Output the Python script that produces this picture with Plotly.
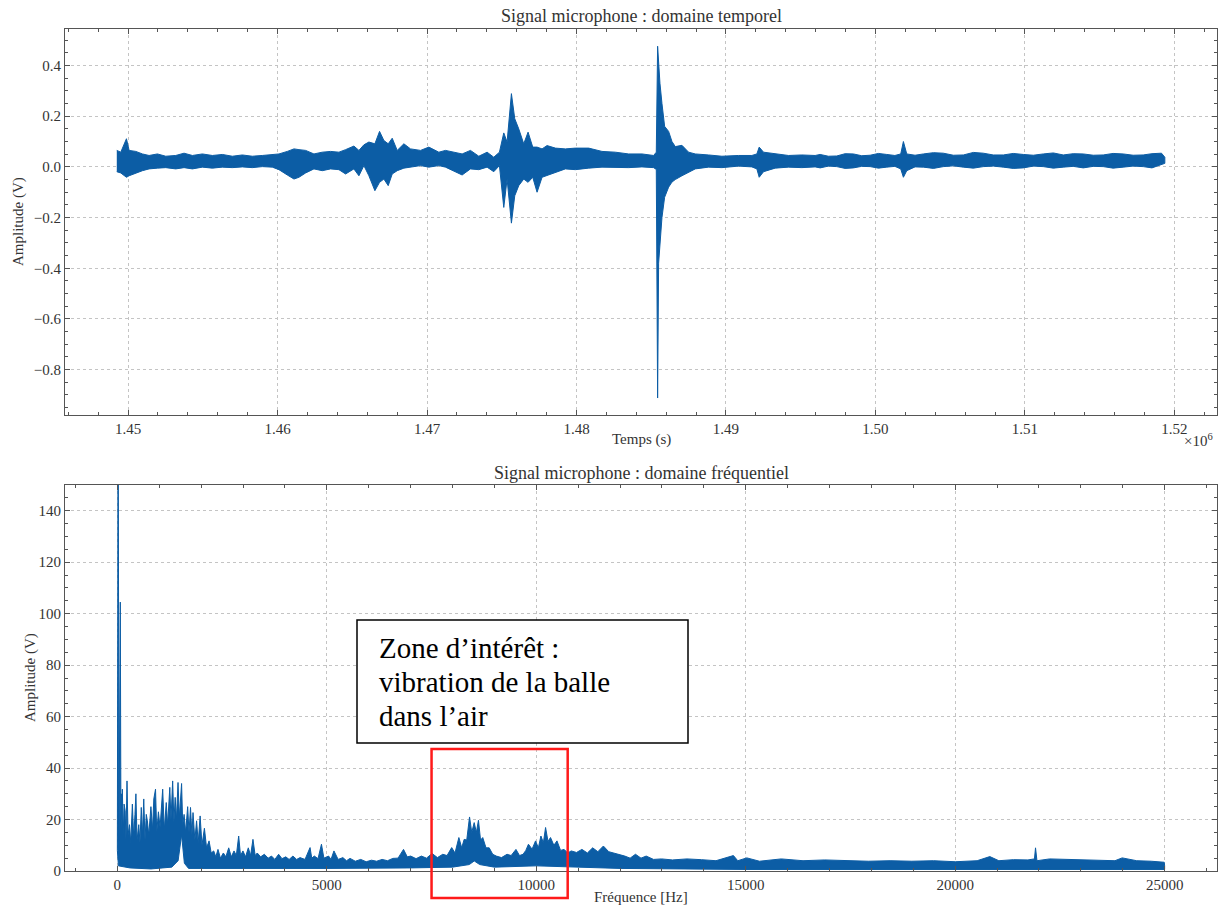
import plotly.graph_objects as go

# ---------------- DATA ----------------
# Time-domain microphone signal, min/max envelope (axis shows x1e6)
time_s = [
    1449245, 1449512, 1449891, 1450069, 1450515, 1450960, 1451406, 1451963, 1452520, 1453188,
    1453745, 1454302, 1454970, 1455639, 1456307, 1456976, 1457644, 1458313, 1458981, 1459650,
    1460095, 1460652, 1461098, 1461432, 1461878, 1462435, 1462992, 1463549, 1464106, 1464551,
    1465108, 1465443, 1465777, 1466111, 1466512, 1466824, 1467114, 1467404, 1467671, 1468005,
    1468451, 1468896, 1469565, 1470121, 1470790, 1471235, 1471903,
    1472349, 1472906, 1473463, 1474020, 1474465, 1474844, 1475134, 1475356, 1475646, 1475869,
    1476136, 1476470, 1476760, 1477072, 1477362, 1477696, 1478030, 1478587, 1479255, 1479924,
    1480815, 1481706, 1482597, 1483489, 1484380, 1485160, 1485338, 1485427, 1485494, 1485583,
    1485717, 1485895, 1486163, 1486386, 1486609, 1487055, 1487500, 1487945, 1488836, 1489727,
    1490841, 1491732, 1492066, 1492222, 1492512, 1493292, 1494183, 1495074, 1495965,
    1496300, 1496850, 1497414, 1497970, 1498528, 1499080, 1499642, 1500200, 1500756, 1501300,
    1501692, 1501870, 1502093, 1502650, 1503207, 1503880, 1504544, 1505210, 1505881, 1506550,
    1507218, 1507880, 1508554, 1509220, 1509891, 1510560, 1511228, 1511900, 1512565, 1513230,
    1513902, 1514570, 1515238, 1515900, 1516575, 1517240, 1517912, 1518500, 1519137, 1519360,
]
amp_max = [
    0.065, 0.058, 0.111, 0.065, 0.061, 0.051, 0.045, 0.051, 0.042, 0.045,
    0.054, 0.045, 0.051, 0.045, 0.049, 0.042, 0.047, 0.042, 0.045, 0.049,
    0.051, 0.061, 0.071, 0.068, 0.065, 0.051, 0.058, 0.061, 0.058, 0.068,
    0.082, 0.065, 0.087, 0.098, 0.091, 0.140, 0.104, 0.091, 0.113, 0.065,
    0.091, 0.071, 0.065, 0.078, 0.058, 0.065, 0.058,
    0.051, 0.065, 0.042, 0.058, 0.038, 0.058, 0.134, 0.098, 0.289, 0.190,
    0.150, 0.091, 0.137, 0.078, 0.078, 0.071, 0.084, 0.074, 0.071, 0.074,
    0.074, 0.061, 0.058, 0.051, 0.051, 0.045, 0.058, 0.476, 0.400, 0.330,
    0.250, 0.160, 0.140, 0.100, 0.080, 0.085, 0.058, 0.051, 0.047, 0.042,
    0.045, 0.045, 0.051, 0.078, 0.058, 0.051, 0.045, 0.047, 0.045,
    0.049, 0.042, 0.043, 0.052, 0.051, 0.044, 0.046, 0.053, 0.049, 0.045,
    0.051, 0.100, 0.051, 0.046, 0.051, 0.056, 0.054, 0.046, 0.047, 0.057,
    0.054, 0.047, 0.047, 0.053, 0.049, 0.046, 0.051, 0.055, 0.047, 0.052,
    0.051, 0.046, 0.047, 0.053, 0.051, 0.046, 0.047, 0.052, 0.054, 0.038,
]
amp_min = [
    -0.019, -0.024, -0.041, -0.035, -0.024, -0.015, -0.008, -0.005, -0.003, -0.008,
    -0.003, -0.008, -0.001, -0.005, -0.001, -0.003, 0.000, -0.003, 0.001, -0.001,
    -0.011, -0.032, -0.048, -0.041, -0.024, -0.008, -0.015, -0.008, -0.011, -0.028,
    -0.008, -0.035, 0.005, -0.035, -0.094, -0.061, -0.048, -0.074, -0.028, -0.015,
    -0.005, -0.001, 0.005, -0.001, 0.005, -0.001, -0.019,
    -0.032, -0.008, -0.011, -0.001, -0.019, 0.005, -0.160, -0.048, -0.222, -0.114,
    -0.074, -0.048, -0.061, -0.041, -0.100, -0.041, -0.032, -0.021, -0.008, -0.011,
    -0.005, -0.001, -0.001, -0.003, 0.000, -0.003, -0.010, -0.912, -0.380, -0.300,
    -0.200, -0.120, -0.080, -0.060, -0.050, -0.035, -0.020, -0.008, -0.001, -0.003,
    0.003, 0.000, -0.008, -0.041, -0.019, -0.005, -0.001, -0.003, 0.000,
    -0.004, 0.003, 0.001, -0.006, -0.004, 0.002, 0.001, -0.005, -0.001, 0.002,
    -0.008, -0.041, -0.015, 0.000, -0.001, -0.006, 0.001, 0.004, -0.001, -0.005,
    0.001, 0.003, -0.001, -0.006, -0.004, 0.003, 0.001, -0.005, -0.001, 0.002,
    -0.004, 0.002, 0.001, -0.005, -0.001, 0.003, 0.001, -0.004, 0.009, 0.014,
]

# Frequency-domain spectrum: upper envelope (Hz, V)
freq_hi = [
    0, 18, 40, 70, 85, 95, 108, 119, 140, 160, 187, 205, 230, 255, 290, 320, 358, 390,
    420, 443, 470, 511, 540, 571, 600, 630, 660, 690, 716, 750, 801, 840, 870, 911, 940,
    980, 1020, 1050, 1082, 1120, 1167, 1200, 1230, 1252, 1280, 1320, 1350, 1380, 1410,
    1448, 1480, 1510, 1533, 1560, 1593, 1630, 1678, 1710, 1746, 1780, 1806, 1850, 1891,
    1930, 1976, 2020, 2078, 2130, 2189, 2240, 2300,
    2350, 2402, 2460, 2530, 2590, 2658, 2720, 2785, 2840, 2896, 2940, 2998, 3060, 3126,
    3180, 3237, 3290, 3339, 3420, 3509, 3600, 3680, 3760, 3850, 3930, 4020, 4100, 4191,
    4280, 4361, 4480, 4600, 4640, 4702, 4790, 4872, 4930, 5043, 5100, 5170, 5270, 5383,
    5470, 5554, 5680, 5809, 5940, 6065, 6190, 6320, 6450, 6576, 6700, 6831, 6920, 7002,
    7130, 7257, 7380, 7513, 7640, 7768, 7870, 7981, 8060, 8152, 8220, 8279, 8340, 8407,
    8460, 8518, 8570, 8620, 8670, 8722, 8800, 8876, 8960, 9046, 9170, 9302, 9400, 9515,
    9600, 9685, 9750, 9813, 9900, 9983, 10050, 10111, 10170, 10222, 10280, 10340, 10420,
    10494, 10580, 10665, 10750, 10835, 10960, 11090, 11220, 11346, 11470, 11602, 11730,
    11857, 11990, 12113, 12240, 12368, 12500, 12624, 12800, 12991, 13251, 13597, 13944,
    14290, 14706, 14810, 15026, 15329, 15848, 16368, 16887, 17407, 17926, 18446, 18965,
    19485, 20004, 20524, 20827, 21043, 21390, 21736, 21892, 21918, 21952, 22255, 22775,
    23294, 23814, 23987, 24333, 24680, 24991, 25000,
]
spec_hi = [
    8, 190, 12, 104.5, 20, 30, 16, 31.8, 14, 26, 23.4, 12, 35, 14, 18, 11, 26, 13,
    22, 30, 12, 18, 11, 24.7, 14, 28, 12, 22, 19.5, 14, 25, 16, 28, 31.8, 15,
    23, 17, 26, 31.8, 16, 26.6, 18, 30, 32.5, 20, 35, 19, 28.6, 20,
    34.4, 21, 30, 34, 18, 22, 15, 25, 15, 24.7, 14, 22.7, 12, 19.5,
    11, 21.4, 10, 16.6, 9, 11.7, 7, 7.8,
    5.5, 8.4, 5, 7, 5.5, 9, 5.5, 7.8, 6, 13.6, 6, 7.8, 5.5, 9,
    6, 12.3, 6, 7, 5.5, 6.5, 5, 5.8, 4.5, 6.5, 4.8, 5.5, 4.5, 5.8,
    4.5, 5.2, 4.5, 9.1, 5, 5.8, 4.8, 10.4, 5, 5.8, 4.5, 7.8, 4.5, 5.2,
    4, 4.9, 3.8, 4.5, 3.6, 4.2, 3.8, 4.5, 4, 4.9, 5, 8.4, 5.5, 5.8,
    4.8, 5.8, 5, 6.8, 5.2, 6.5, 6, 9.1, 7, 13, 9, 12.3, 12, 21,
    15, 18.8, 15, 19.7, 12, 13, 9, 9, 6.5, 5.8, 5.2, 6.5, 6, 8.4,
    6, 6.5, 8, 10.4, 8.5, 11.7, 9, 13.6, 11, 16.9, 11.5, 13, 10,
    11.7, 8, 8.4, 7, 7.8, 7.2, 8.4, 7, 9, 7.5, 9.7, 7.5,
    7, 6.5, 5.8, 5, 6.5, 5, 5.8, 4.5, 4.7, 4.3, 4.7, 4.4,
    4.0, 6.0, 4.0, 5.1, 3.8, 4.7, 4.0, 4.3, 4.0, 3.8, 4.0, 3.8,
    4.0, 3.6, 4.0, 5.6, 4.0, 4.4, 4.3, 4.7, 9.0, 4.0, 4.7, 4.4,
    4.3, 4.0, 5.1, 4.0, 3.8, 3.4, 2.0,
]
# Frequency-domain spectrum: lower envelope
freq_lo = [0, 25, 300, 800, 1300, 1450, 1533, 1600, 1700, 2200, 3000, 5000, 7000,
           8000, 8400, 8520, 8650, 9000, 10000, 11000, 12000, 15000, 20000, 25000]
spec_lo = [8, 2, 1.2, 0.8, 1.5, 4, 14, 3, 1, 0.8, 1.0, 1.0, 1.2,
           1.5, 2.5, 3.9, 2.5, 1.5, 2.0, 1.5, 1.0, 0.6, 0.6, 0.6]

t_ticks = [1.45e6, 1.46e6, 1.47e6, 1.48e6, 1.49e6, 1.50e6, 1.51e6, 1.52e6]
t_ticklabels = ["1.45", "1.46", "1.47", "1.48", "1.49", "1.50", "1.51", "1.52"]
a_ticks = [-0.8, -0.6, -0.4, -0.2, 0.0, 0.2, 0.4]
a_ticklabels = ["\u22120.8", "\u22120.6", "\u22120.4", "\u22120.2", "0.0", "0.2", "0.4"]
f_ticks = [0, 5000, 10000, 15000, 20000, 25000]
s_ticks = [0, 20, 40, 60, 80, 100, 120, 140]
zone_f = [7500, 10750]
note_lines = ["Zone d\u2019intérêt :", "vibration de la balle", "dans l\u2019air"]

# ---------------- FIGURE ----------------
BLUE = "#0C5DA5"
FONT = "Liberation Serif"
TXT = "#333333"
W, H = 1223, 906
ML, MR, MT, MB = 65, 6, 29, 35
PW, PH = W - ML - MR, H - MT - MB


def px2x(px):
    return (px - ML) / PW


def py2y(py):
    return (H - MB - py) / PH


fig = go.Figure()
fig.add_trace(go.Scatter(
    x=time_s + time_s[::-1], y=amp_max + amp_min[::-1],
    mode="lines", fill="toself", fillcolor=BLUE,
    line=dict(color=BLUE, width=1), hoverinfo="skip", showlegend=False,
    xaxis="x", yaxis="y"))
fig.add_trace(go.Scatter(
    x=freq_hi + freq_lo[::-1], y=spec_hi + spec_lo[::-1],
    mode="lines", fill="toself", fillcolor=BLUE,
    line=dict(color=BLUE, width=1), hoverinfo="skip", showlegend=False,
    xaxis="x2", yaxis="y2"))

axis_common = dict(
    showline=True, linecolor="#555555", linewidth=1, mirror="allticks",
    ticks="inside", ticklen=5, tickcolor="#555555", tickwidth=1,
    showgrid=True, gridcolor="#c4c4c4", griddash="dot", gridwidth=0.6,
    zeroline=False, tickfont=dict(family=FONT, size=15, color=TXT),
)

top_dom = [py2y(415), 1]
bot_dom = [0, py2y(485)]

fig.update_layout(
    width=W, height=H,
    margin=dict(l=ML, r=MR, t=MT, b=MB),
    paper_bgcolor="white", plot_bgcolor="white",
    font=dict(family=FONT, color=TXT),
    xaxis=dict(axis_common, domain=[0, 1], anchor="y",
               range=[1445780, 1522850], tickvals=t_ticks, ticktext=t_ticklabels,
               minor=dict(ticks="inside", ticklen=3, dtick=2000, tick0=1.45e6,
                          tickcolor="#555555", showgrid=False)),
    yaxis=dict(axis_common, domain=top_dom, anchor="x",
               range=[-0.979, 0.544], tickvals=a_ticks, ticktext=a_ticklabels,
               minor=dict(ticks="inside", ticklen=3, dtick=0.05, tick0=0,
                          tickcolor="#555555", showgrid=False)),
    xaxis2=dict(axis_common, domain=[0, 1], anchor="y2",
                range=[-1250, 26250], tickvals=f_ticks,
                ticktext=[str(v) for v in f_ticks],
                minor=dict(ticks="inside", ticklen=3, dtick=1000, tick0=0,
                           tickcolor="#555555", showgrid=False)),
    yaxis2=dict(axis_common, domain=bot_dom, anchor="x2",
                range=[0, 150], tickvals=s_ticks,
                ticktext=[str(v) for v in s_ticks],
                minor=dict(ticks="inside", ticklen=3, dtick=5, tick0=0,
                           tickcolor="#555555", showgrid=False)),
)


def label(text, px, py, size=15, angle=0, color=TXT, xanchor="center"):
    return dict(text=text, x=px2x(px), y=py2y(py), xref="paper", yref="paper",
                xanchor=xanchor, yanchor="middle", showarrow=False, textangle=angle,
                font=dict(family=FONT, size=size, color=color))


ann = [
    label("Signal microphone : domaine temporel", 641, 16, size=18),
    label("Signal microphone : domaine fréquentiel", 641, 473, size=18),
    label("Temps (s)", 641, 440),
    label("Fréquence [Hz]", 641, 897),
    label("Amplitude (V)", 18, 222, angle=-90),
    label("Amplitude (V)", 30, 678, angle=-90),
    label("\u00d710<sup>6</sup>", 1198, 440),
]
for txt, py in zip(note_lines, [648, 682, 716]):
    ann.append(label(txt, 377, py, size=29, color="black", xanchor="left"))
fig.update_layout(annotations=ann)

fig.update_layout(shapes=[
    dict(type="rect", xref="paper", yref="paper",
         x0=px2x(357), x1=px2x(688), y0=py2y(743), y1=py2y(620),
         line=dict(color="black", width=1.5), fillcolor="white", layer="above"),
    dict(type="rect", xref="x2", yref="paper",
         x0=zone_f[0], x1=zone_f[1], y0=py2y(898), y1=py2y(749),
         line=dict(color="#ff1a1a", width=2.5), layer="above"),
])

fig.write_html("out.html", config={"displayModeBar": False},
               post_script="document.body.style.margin='0';document.body.style.overflow='hidden';")
